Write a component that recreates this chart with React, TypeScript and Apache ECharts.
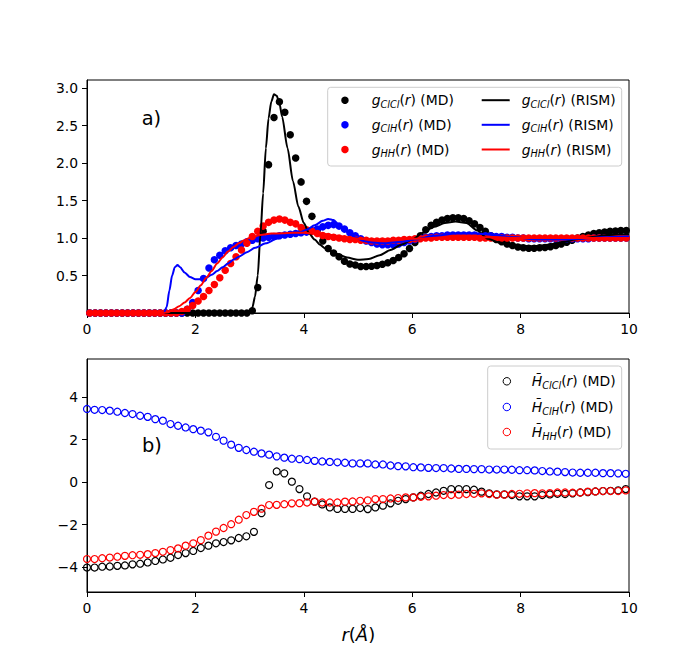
import React, { useEffect, useRef } from "react";
import * as echarts from "echarts";

// ---------- data ----------
// MD radial grid (bin centres, Å) for panel a
const rMD = Array.from({ length: 100 }, (_, k) => Math.round((0.05 + k * 0.1) * 100) / 100);
// MD radial grid for panel b (Å)
const rH = Array.from({ length: 72 }, (_, k) => Math.round(k * 0.14 * 100) / 100);

const gClClMD = [
  0, 0, 0, 0, 0, 0, 0, 0, 0, 0,
  0, 0, 0, 0, 0, 0, 0, 0, 0, 0,
  0, 0, 0, 0, 0, 0, 0, 0, 0, 0,
  0.03, 0.34, 1.09, 1.98, 2.61, 2.82, 2.68, 2.38, 2.07, 1.75,
  1.49, 1.29, 1.11, 0.96, 0.86, 0.8, 0.75, 0.69, 0.655, 0.64,
  0.62, 0.62, 0.625, 0.635, 0.65, 0.67, 0.7, 0.74, 0.79, 0.86,
  0.94, 1.03, 1.11, 1.17, 1.21, 1.24, 1.26, 1.27, 1.27, 1.26,
  1.23, 1.19, 1.14, 1.09, 1.03, 0.98, 0.95, 0.92, 0.9, 0.88,
  0.87, 0.865, 0.865, 0.87, 0.875, 0.885, 0.9, 0.92, 0.945, 0.97,
  1.0, 1.02, 1.04, 1.06, 1.07, 1.08, 1.09, 1.095, 1.1, 1.1,
];
const gClHMD = [
  0, 0, 0, 0, 0, 0, 0, 0, 0, 0,
  0, 0, 0, 0, 0, 0, 0, 0, 0.05, 0.14,
  0.3, 0.46, 0.6, 0.71, 0.77, 0.83, 0.87, 0.9, 0.92, 0.95,
  0.97, 0.99, 1.0, 1.01, 1.02, 1.03, 1.04, 1.05, 1.06, 1.07,
  1.08, 1.1, 1.12, 1.15, 1.17, 1.18, 1.16, 1.12, 1.07, 1.03,
  0.99, 0.96, 0.94, 0.92, 0.91, 0.91, 0.91, 0.92, 0.94, 0.96,
  0.98, 1.0, 1.01, 1.02, 1.03, 1.03, 1.04, 1.04, 1.04, 1.04,
  1.04, 1.04, 1.03, 1.03, 1.03, 1.02, 1.02, 1.01, 1.01, 1.0,
  1.0, 0.99, 0.99, 0.99, 0.99, 0.99, 0.99, 0.99, 0.99, 0.99,
  0.99, 0.99, 0.99, 1.0, 1.0, 1.0, 1.0, 1.0, 1.0, 1.0,
];
const gHHMD = [
  0, 0, 0, 0, 0, 0, 0, 0, 0, 0,
  0, 0, 0, 0, 0, 0, 0, 0.02, 0.05, 0.1,
  0.16, 0.22, 0.3, 0.38, 0.47, 0.57, 0.66, 0.75, 0.84, 0.93,
  1.02, 1.09, 1.16, 1.21, 1.24, 1.255, 1.24, 1.21, 1.19, 1.14,
  1.11, 1.09, 1.06, 1.035, 1.02, 1.01, 1.0, 0.99, 0.98, 0.98,
  0.97, 0.97, 0.96, 0.96, 0.96, 0.96, 0.97, 0.97, 0.98, 0.98,
  0.99, 0.99, 1.0, 1.0, 1.01, 1.01, 1.01, 1.01, 1.01, 1.01,
  1.01, 1.01, 1.0, 1.0, 1.0, 1.0, 1.0, 1.0, 1.0, 1.0,
  1.0, 1.0, 1.0, 1.0, 1.0, 1.0, 1.0, 1.0, 1.0, 1.0,
  1.0, 1.0, 1.0, 1.0, 1.0, 1.0, 1.0, 1.0, 1.0, 1.0,
];

// RISM curves, [r, g(r)]
const gClClRISM = [
  [0, 0], [2.9, 0], [3.0, 0.01], [3.05, 0.07], [3.1, 0.22], [3.15, 0.5], [3.2, 1.05],
  [3.25, 1.6], [3.3, 2.2], [3.35, 2.6], [3.4, 2.82], [3.45, 2.92], [3.5, 2.9], [3.55, 2.8],
  [3.6, 2.62], [3.7, 2.2], [3.8, 1.76], [3.9, 1.42], [4.0, 1.2], [4.1, 1.06], [4.2, 0.98],
  [4.3, 0.91], [4.4, 0.86], [4.6, 0.79], [4.8, 0.74], [5.0, 0.71], [5.2, 0.72], [5.4, 0.77],
  [5.6, 0.84], [5.8, 0.91], [6.0, 0.98], [6.2, 1.07], [6.4, 1.15], [6.6, 1.2], [6.8, 1.22],
  [7.0, 1.2], [7.2, 1.1], [7.4, 0.99], [7.6, 0.94], [7.8, 0.91], [8.0, 0.9], [8.2, 0.89],
  [8.4, 0.9], [8.6, 0.92], [8.8, 0.95], [9.0, 0.98], [9.2, 1.0], [9.4, 1.02], [9.6, 1.04],
  [9.8, 1.05], [10, 1.05],
];
const gClHRISM = [
  [0, 0], [1.42, 0], [1.47, 0.08], [1.52, 0.3], [1.57, 0.5], [1.62, 0.61], [1.67, 0.64],
  [1.72, 0.61], [1.8, 0.54], [1.9, 0.48], [2.0, 0.45], [2.1, 0.45], [2.2, 0.47], [2.3, 0.51],
  [2.4, 0.56], [2.5, 0.61], [2.6, 0.66], [2.7, 0.71], [2.8, 0.75], [2.95, 0.81], [3.1, 0.87],
  [3.3, 0.93], [3.5, 0.99], [3.7, 1.04], [3.9, 1.07], [4.05, 1.11], [4.2, 1.17], [4.35, 1.23],
  [4.45, 1.255], [4.55, 1.24], [4.65, 1.18], [4.75, 1.11], [4.85, 1.05], [4.95, 1.01],
  [5.1, 0.96], [5.25, 0.94], [5.5, 0.93], [5.8, 0.95], [6.05, 0.98], [6.4, 1.03], [6.8, 1.06],
  [7.2, 1.06], [7.5, 1.04], [7.9, 1.01], [8.3, 0.98], [8.7, 0.98], [9.1, 0.99], [9.5, 1.01],
  [10, 1.02],
];
const gHHRISM = [
  [0, 0], [1.4, 0], [1.5, 0.01], [1.6, 0.05], [1.7, 0.09], [1.8, 0.14], [1.9, 0.2], [2.0, 0.28],
  [2.1, 0.37], [2.2, 0.47], [2.3, 0.56], [2.4, 0.66], [2.5, 0.74], [2.6, 0.82], [2.7, 0.88],
  [2.8, 0.93], [2.9, 0.97], [3.0, 1.0], [3.2, 1.04], [3.4, 1.06], [3.6, 1.065], [3.8, 1.07],
  [4.0, 1.07], [4.2, 1.06], [4.4, 1.05], [4.6, 1.03], [4.8, 1.01], [5.0, 0.99], [5.3, 0.98],
  [5.6, 0.98], [6.0, 0.99], [6.5, 1.0], [7.0, 1.01], [7.5, 1.01], [8.0, 1.0], [8.5, 1.0],
  [9.0, 1.0], [10, 1.0],
];

// Panel b
const hClCl = [
  -4.02, -4.02, -3.98, -3.97, -3.94, -3.92, -3.87, -3.84, -3.78, -3.71,
  -3.64, -3.56, -3.43, -3.34, -3.24, -3.1, -2.99, -2.88, -2.82, -2.74,
  -2.63, -2.55, -2.34, -1.46, -0.14, 0.5, 0.41, 0.02, -0.33, -0.67,
  -0.92, -1.05, -1.19, -1.26, -1.26, -1.26, -1.22, -1.27, -1.19, -1.11,
  -1.0, -0.88, -0.8, -0.72, -0.64, -0.56, -0.49, -0.41, -0.33, -0.33,
  -0.33, -0.36, -0.45, -0.53, -0.58, -0.58, -0.61, -0.67, -0.67, -0.67,
  -0.61, -0.58, -0.55, -0.56, -0.53, -0.49, -0.47, -0.44, -0.42, -0.41,
  -0.39, -0.33,
];
const hClH = [
  3.44, 3.4, 3.39, 3.36, 3.31, 3.25, 3.2, 3.12, 3.07, 2.96,
  2.89, 2.73, 2.65, 2.57, 2.49, 2.42, 2.34, 2.13, 1.95, 1.76,
  1.61, 1.51, 1.43, 1.35, 1.29, 1.21, 1.15, 1.1, 1.08, 1.04,
  1.0, 0.97, 0.95, 0.93, 0.91, 0.88, 0.88, 0.88, 0.83, 0.83,
  0.78, 0.75, 0.74, 0.7, 0.69, 0.67, 0.66, 0.66, 0.64, 0.62,
  0.62, 0.61, 0.61, 0.59, 0.59, 0.59, 0.58, 0.56, 0.56, 0.55,
  0.52, 0.5, 0.49, 0.47, 0.45, 0.44, 0.44, 0.44, 0.42, 0.42,
  0.41, 0.39,
];
const hHH = [
  -3.62, -3.62, -3.58, -3.55, -3.51, -3.47, -3.44, -3.42, -3.39, -3.34,
  -3.28, -3.2, -3.12, -2.99, -2.88, -2.73, -2.52, -2.33, -2.16, -1.98,
  -1.77, -1.55, -1.4, -1.25, -1.08, -1.07, -1.04, -1.0, -0.99, -0.96,
  -0.92, -0.96, -0.96, -0.96, -0.92, -0.91, -0.88, -0.86, -0.8, -0.8,
  -0.77, -0.75, -0.72, -0.72, -0.69, -0.67, -0.64, -0.61, -0.61, -0.59,
  -0.56, -0.55, -0.53, -0.56, -0.59, -0.59, -0.56, -0.55, -0.53, -0.52,
  -0.53, -0.52, -0.49, -0.49, -0.5, -0.49, -0.45, -0.44, -0.42, -0.42,
  -0.42, -0.39,
];

const xTicks = [0, 2, 4, 6, 8, 10];
const yTicksTop = [0.5, 1.0, 1.5, 2.0, 2.5, 3.0];
const yTicksBottom = [-4, -2, 0, 2, 4];

// ---------- styling ----------
const FONT = "DejaVu Sans";
const BLACK = "#000000";
const BLUE = "#0000ff";
const RED = "#ff0000";

const rich = {
  sp: { fontFamily: FONT, fontSize: 13.9, lineHeight: 18, width: 7 },
  n: { fontFamily: FONT, fontSize: 13.9, lineHeight: 18, color: BLACK },
  i: { fontFamily: FONT, fontSize: 13.9, lineHeight: 18, fontStyle: "italic", color: BLACK },
  s: { fontFamily: FONT, fontSize: 9.7, lineHeight: 9.7, fontStyle: "italic", verticalAlign: "bottom", color: BLACK },
};

const labelText: Record<string, string> = {
  ClCl_MD: "{i|g}{s|ClCl}{n|(}{i|r}{n|) (MD)}",
  ClH_MD: "{i|g}{s|ClH}{n|(}{i|r}{n|) (MD)}",
  HH_MD: "{i|g}{s|HH}{n|(}{i|r}{n|) (MD)}",
  ClCl_RISM: "{sp| }{i|g}{s|ClCl}{n|(}{i|r}{n|) (RISM)}",
  ClH_RISM: "{sp| }{i|g}{s|ClH}{n|(}{i|r}{n|) (RISM)}",
  HH_RISM: "{sp| }{i|g}{s|HH}{n|(}{i|r}{n|) (RISM)}",
  H_ClCl: "{i|H\u0304}{s|ClCl}{n|(}{i|r}{n|) (MD)}",
  H_ClH: "{i|H\u0304}{s|ClH}{n|(}{i|r}{n|) (MD)}",
  H_HH: "{i|H\u0304}{s|HH}{n|(}{i|r}{n|) (MD)}",
};

// kind: "dot" filled circle, "open" hollow circle, "line" RISM line
function legendItem(name: string, left: number, rowY: number, kind: string, w: number) {
  const o: any = {
    data: [name],
    left,
    top: rowY - 9,
    orient: "vertical",
    padding: 0,
    itemWidth: w,
    itemHeight: kind === "line" ? 2 : 7.5,
    selectedMode: false,
    formatter: (n: string) => labelText[n],
    textStyle: { fontFamily: FONT, fontSize: 13.9, color: BLACK, rich },
  };
  if (kind === "line") o.icon = "rect";
  if (kind === "open") o.itemStyle = { borderWidth: 1, opacity: 1 };
  if (kind === "dot") o.itemStyle = { opacity: 1 };
  return o;
}

const axisCommon = {
  axisLine: { show: true, onZero: false, lineStyle: { color: BLACK, width: 1 } },
  axisTick: { show: true, inside: false, length: 5, lineStyle: { color: BLACK, width: 1 } },
  splitLine: { show: false },
};

export default function App() {
  const ref = useRef<HTMLDivElement>(null);
  useEffect(() => {
    document.body.style.margin = "0";
    if (!ref.current) return;
    const chart = echarts.init(ref.current, null, { renderer: "svg" });

    const mdSeries = (name: string, vals: number[], color: string) => ({
      name,
      type: "scatter",
      xAxisIndex: 0,
      yAxisIndex: 0,
      symbol: "circle",
      symbolSize: 7.5,
      itemStyle: { color, opacity: 1 },
      data: vals.map((v, k) => [rMD[k], v]),
    });
    const rismSeries = (name: string, pts: number[][], color: string) => ({
      name,
      type: "line",
      xAxisIndex: 0,
      yAxisIndex: 0,
      symbol: "none",
      smooth: 0.25,
      smoothMonotone: "x",
      lineStyle: { color, width: 2 },
      itemStyle: { color },
      data: pts,
    });
    const hSeries = (name: string, vals: number[], color: string) => ({
      name,
      type: "scatter",
      xAxisIndex: 1,
      yAxisIndex: 1,
      symbol: "circle",
      symbolSize: 7,
      itemStyle: { color: "rgba(0,0,0,0)", borderColor: color, borderWidth: 1.2, opacity: 1 },
      data: vals.map((v, k) => [rH[k], v]),
    });

    const option: any = {
      animation: false,
      backgroundColor: "#ffffff",
      textStyle: { fontFamily: FONT },
      grid: [
        { left: 87, top: 80, width: 542, height: 233, show: true, borderColor: BLACK, borderWidth: 1, backgroundColor: "transparent" },
        { left: 87, top: 359, width: 542, height: 233, show: true, borderColor: BLACK, borderWidth: 1, backgroundColor: "transparent" },
      ],
      xAxis: [0, 1].map((g) => ({
        type: "value",
        gridIndex: g,
        min: 0,
        max: 10,
        ...axisCommon,
        axisTick: { ...axisCommon.axisTick, customValues: xTicks },
        axisLabel: { customValues: xTicks, fontFamily: FONT, fontSize: 13.9, color: BLACK, margin: 9 },
      })),
      yAxis: [
        {
          type: "value",
          gridIndex: 0,
          min: 0,
          max: 3.11,
          ...axisCommon,
          axisTick: { ...axisCommon.axisTick, customValues: yTicksTop },
          axisLabel: {
            customValues: yTicksTop,
            fontFamily: FONT,
            fontSize: 13.9,
            color: BLACK,
            margin: 9,
            formatter: (v: number) => v.toFixed(1),
          },
        },
        {
          type: "value",
          gridIndex: 1,
          min: -5.17,
          max: 5.79,
          ...axisCommon,
          axisTick: { ...axisCommon.axisTick, customValues: yTicksBottom },
          axisLabel: {
            customValues: yTicksBottom,
            fontFamily: FONT,
            fontSize: 13.9,
            color: BLACK,
            margin: 9,
            formatter: (v: number) => String(v).replace("-", "\u2212"),
          },
        },
      ],
      legend: [
        legendItem("ClCl_MD", 341.2, 102.2, "dot", 43.4),
        legendItem("ClH_MD", 341.2, 126.8, "dot", 43.4),
        legendItem("HH_MD", 341.2, 151.5, "dot", 43.4),
        legendItem("ClCl_RISM", 481.7, 102.2, "line", 28),
        legendItem("ClH_RISM", 481.7, 126.8, "line", 28),
        legendItem("HH_RISM", 481.7, 151.5, "line", 28),
        legendItem("H_ClCl", 502.6, 383.3, "open", 40),
        legendItem("H_ClH", 502.6, 409, "open", 40),
        legendItem("H_HH", 502.6, 434, "open", 40),
      ],
      graphic: [
        {
          type: "rect",
          z: 3,
          shape: { x: 327.7, y: 87.3, width: 294, height: 78.7, r: 3 },
          style: { fill: "rgba(255,255,255,0.8)", stroke: "#cccccc", lineWidth: 1 },
        },
        {
          type: "rect",
          z: 3,
          shape: { x: 487.7, y: 366, width: 134, height: 83, r: 3 },
          style: { fill: "rgba(255,255,255,0.8)", stroke: "#cccccc", lineWidth: 1 },
        },
        {
          type: "text",
          z: 5,
          x: 141.7,
          y: 118.3,
          style: { text: "a)", fontFamily: FONT, fontSize: 19.4, fill: BLACK, align: "left", verticalAlign: "middle" },
        },
        {
          type: "text",
          z: 5,
          x: 142,
          y: 445,
          style: { text: "b)", fontFamily: FONT, fontSize: 19.4, fill: BLACK, align: "left", verticalAlign: "middle" },
        },
        {
          type: "text",
          z: 5,
          x: 358.3,
          y: 634,
          style: {
            text: "{i|r}{n|(}{i|Å}{n|)}",
            fontFamily: FONT,
            fontSize: 18,
            fill: BLACK,
            align: "center",
            verticalAlign: "middle",
            rich: {
              i: { fontFamily: FONT, fontSize: 18, fontStyle: "italic", fill: BLACK },
              n: { fontFamily: FONT, fontSize: 18, fill: BLACK },
            },
          },
        },
      ],
      series: [
        mdSeries("ClCl_MD", gClClMD, BLACK),
        mdSeries("ClH_MD", gClHMD, BLUE),
        mdSeries("HH_MD", gHHMD, RED),
        rismSeries("ClCl_RISM", gClClRISM, BLACK),
        rismSeries("ClH_RISM", gClHRISM, BLUE),
        rismSeries("HH_RISM", gHHRISM, RED),
        hSeries("H_ClCl", hClCl, BLACK),
        hSeries("H_ClH", hClH, BLUE),
        hSeries("H_HH", hHH, RED),
      ],
    };
    chart.setOption(option);
    return () => chart.dispose();
  }, []);
  return <div ref={ref} style={{ width: 699, height: 665 }} />;
}
